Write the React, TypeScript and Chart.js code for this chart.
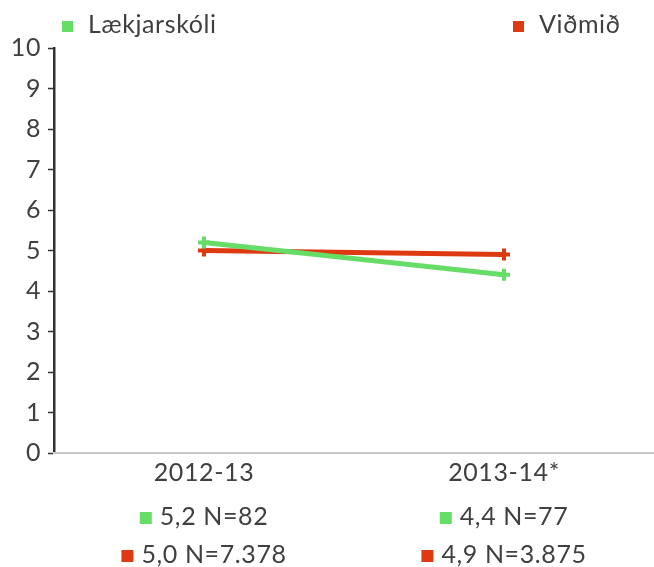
import React, { useEffect, useRef } from "react";
import { Chart, registerables } from "chart.js";

Chart.register(...registerables);

const categories = ["2012-13", "2013-14*"];
const seriesNames = ["Lækjarskóli", "Viðmið"];
const lakjarskoli = [5.2, 4.4];
const vidmid = [5.0, 4.9];
const tableRowLaek = ["5,2 N=82", "4,4 N=77"];
const tableRowVidmid = ["5,0 N=7.378", "4,9 N=3.875"];
const yTicks = [0, 1, 2, 3, 4, 5, 6, 7, 8, 9, 10];

const GREEN = "#66dd66";
const RED = "#dd3a12";
const TEXT = "#404040";
const FONT = "Lato";
const FS = 25;

const extrasPlugin = {
  id: "extras",
  afterLayout(chart: any) {
    const x = chart.scales.x;
    const W = chart.width;
    chart.chartArea.right = W;
    chart.chartArea.width = W - chart.chartArea.left;
    x.right = W;
    x.width = W - x.left;
    x.configure();
  },
  beforeDraw(chart: any) {
    chart.ctx.letterSpacing = "0.6px";
  },
  afterDraw(chart: any) {
    const ctx = chart.ctx;
    const x = chart.scales.x;
    ctx.save();
    ctx.letterSpacing = "0.6px";
    ctx.font = `${FS}px ${FONT}`;
    ctx.textBaseline = "middle";
    // legend
    const legendItems = [
      { text: seriesNames[0], color: GREEN, x: 62 },
      { text: seriesNames[1], color: RED, x: 513 },
    ];
    legendItems.forEach((it) => {
      ctx.fillStyle = it.color;
      ctx.fillRect(it.x, 21, 11, 11);
      ctx.fillStyle = TEXT;
      ctx.textAlign = "left";
      ctx.fillText(it.text, it.x + 26, 25);
    });
    // data table rows
    const rows = [
      { vals: tableRowLaek, color: GREEN, y: 517 },
      { vals: tableRowVidmid, color: RED, y: 555 },
    ];
    rows.forEach((row) => {
      row.vals.forEach((t, i) => {
        const cx = x.getPixelForValue(i);
        const tw = ctx.measureText(t).width;
        const total = 12 + 8 + tw;
        const left = cx - total / 2;
        ctx.fillStyle = row.color;
        ctx.fillRect(left, row.y - 5, 12, 12);
        ctx.fillStyle = TEXT;
        ctx.textAlign = "left";
        ctx.fillText(t, left + 20, row.y);
      });
    });
    ctx.restore();
  },
};

export default function App() {
  const ref = useRef<HTMLCanvasElement>(null);
  useEffect(() => {
    const chart = new Chart(ref.current!, {
      type: "line",
      data: {
        labels: categories,
        datasets: [
          {
            label: seriesNames[0],
            data: lakjarskoli,
            borderColor: GREEN,
            backgroundColor: GREEN,
            borderWidth: 5,
            pointStyle: "cross",
            pointRadius: 6,
            pointBorderWidth: 4,
            pointBorderColor: GREEN,
            tension: 0,
          },
          {
            label: seriesNames[1],
            data: vidmid,
            borderColor: RED,
            backgroundColor: RED,
            borderWidth: 5,
            pointStyle: "cross",
            pointRadius: 6,
            pointBorderWidth: 4,
            pointBorderColor: RED,
            tension: 0,
          },
        ],
      },
      options: {
        animation: false,
        responsive: false,
        maintainAspectRatio: false,
        layout: { padding: { top: 48, right: 0, left: 0, bottom: 0 } },
        plugins: { legend: { display: false }, tooltip: { enabled: false } },
        scales: {
          y: {
            min: 0,
            max: 10,
            afterBuildTicks: (s: any) => {
              s.ticks = yTicks.map((v) => ({ value: v }));
            },
            afterFit: (s: any) => {
              s.width = 54;
            },
            ticks: {
              font: { family: FONT, size: FS },
              color: TEXT,
              padding: 7,
            },
            grid: {
              drawOnChartArea: false,
              drawTicks: true,
              tickLength: 6,
              tickColor: "#333333",
              tickWidth: 1.5,
            },
            border: { color: "#333333", width: 2.5 },
          },
          x: {
            offset: true,
            afterFit: (s: any) => {
              s.height = 114;
            },
            ticks: {
              font: { family: FONT, size: FS },
              color: TEXT,
              padding: 5,
            },
            grid: { display: false, drawTicks: false },
            border: { color: "#c8c8c8", width: 2 },
          },
        },
      },
      plugins: [extrasPlugin],
    });
    return () => chart.destroy();
  }, []);
  return (
    <div style={{ position: "fixed", left: 0, top: 0, width: 654, height: 567, background: "#fff" }}>
      <canvas ref={ref} width={654} height={567} style={{ display: "block" }} />
    </div>
  );
}
